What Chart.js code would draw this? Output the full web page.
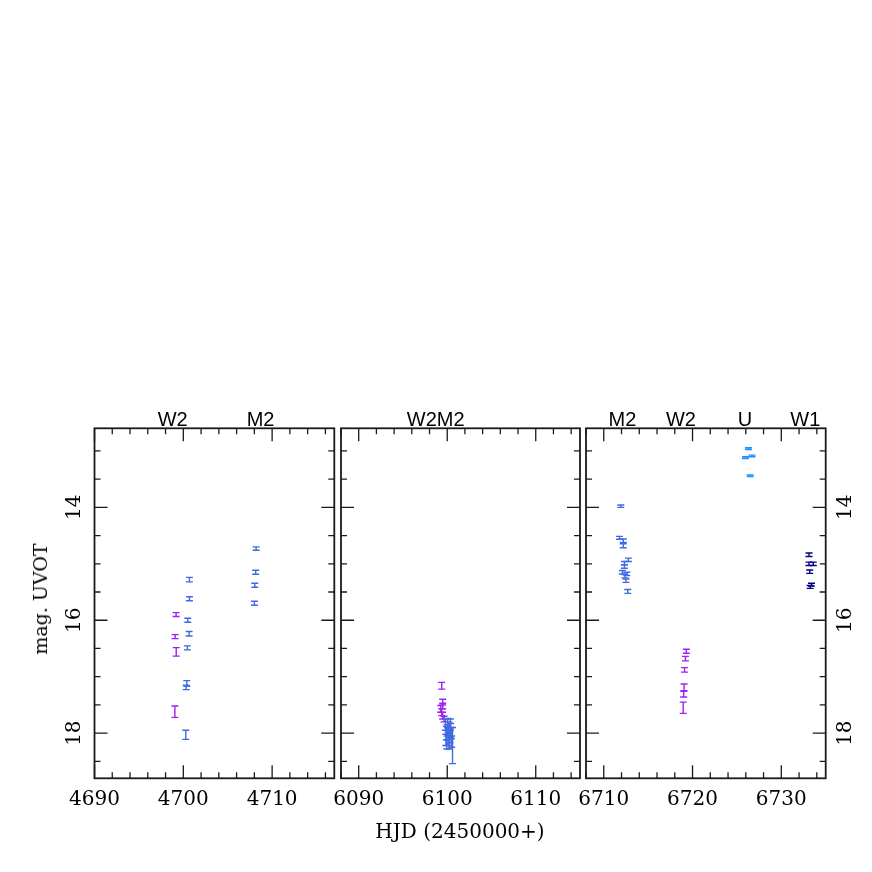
<!DOCTYPE html>
<html>
<head>
<meta charset="utf-8">
<script src="https://cdn.jsdelivr.net/npm/chart.js"></script>
<style>
  body { margin: 0; background: #fff; }
  #wrap { position: relative; width: 872px; height: 872px; background: #fff; }
  #wrap canvas { position: absolute; left: 0; top: 0; }
  .lbl { position: absolute; font-family: "DejaVu Serif", serif; font-size: 19px; color: #000; white-space: nowrap; }
</style>
</head>
<body>
<div id="wrap">
  <canvas id="c1" width="872" height="872"></canvas>
  <canvas id="c2" width="872" height="872"></canvas>
  <canvas id="c3" width="872" height="872"></canvas>
  <div class="lbl" id="ylab" style="left:40px;top:599px;transform:translate(-50%,-50%) rotate(-90deg);">mag. UVOT</div>
  <div class="lbl" id="xlab" style="left:460px;top:831px;font-size:20px;transform:translate(-50%,-50%);">HJD (2450000+)</div>
</div>
<script>
// Magnitude axis (shared by all panels)
var yMin = 12.6, yMax = 18.8;
var yTickLabels = [14, 16, 18];

// Panel 1: HJD 4690-4717
var p1Range = [4690, 4717];
var p1TickLabels = [4690, 4700, 4710];
var p1Bands = ['W2', 'M2'];
var p1BandX = [4698.8, 4708.7];

var p1W2X = [4699.19, 4699.08, 4699.2, 4699.05];
var p1W2Y = [15.90, 16.29, 16.56, 17.62];
var p1W2E = [0.035, 0.035, 0.075, 0.1];

var p1M2X = [4700.69, 4700.69, 4700.5, 4700.65, 4700.46, 4700.39, 4700.32, 4700.28, 4708.2, 4708.15, 4708.05, 4708.0];
var p1M2Y = [15.28, 15.62, 16.0, 16.24, 16.49, 17.12, 17.19, 18.03, 14.73, 15.15, 15.38, 15.70];
var p1M2E = [0.04, 0.035, 0.035, 0.04, 0.035, 0.05, 0.04, 0.08, 0.03, 0.035, 0.035, 0.035];

// Panel 2: HJD 6088-6115
var p2Range = [6088, 6115];
var p2TickLabels = [6090, 6100, 6110];
var p2Bands = ['W2M2'];
var p2BandX = [6098.7];

var p2W2X = [6099.38, 6099.49, 6099.49, 6099.27, 6099.38, 6099.49, 6099.64];
var p2W2Y = [17.16, 17.45, 17.52, 17.57, 17.63, 17.69, 17.75];
var p2W2E = [0.06, 0.05, 0.05, 0.06, 0.06, 0.06, 0.05];

var p2M2X = [6099.8, 6099.9, 6100.0, 6100.1, 6100.2, 6100.3, 6100.4, 6100.5, 6099.85, 6100.05, 6100.25, 6100.35, 6100.6, 6099.95, 6100.45];
var p2M2Y = [17.85, 18.0, 17.95, 18.1, 17.9, 18.05, 17.95, 18.15, 18.12, 17.82, 18.18, 17.85, 18.22, 18.2, 18.0];
var p2M2E = [0.1, 0.12, 0.1, 0.12, 0.1, 0.12, 0.12, 0.1, 0.1, 0.08, 0.1, 0.1, 0.32, 0.08, 0.1];

// Panel 3: HJD 6708-6735
var p3Range = [6708, 6735];
var p3TickLabels = [6710, 6720, 6730];
var p3Bands = ['M2', 'W2', 'U', 'W1'];
var p3BandX = [6712.1, 6718.7, 6725.9, 6732.7];

var p3M2X = [6711.92, 6711.77, 6712.2, 6712.2, 6712.78, 6712.33, 6712.33, 6712.1, 6712.6, 6712.4, 6712.5, 6712.7];
var p3M2Y = [13.98, 14.54, 14.59, 14.68, 14.93, 14.99, 15.05, 15.15, 15.18, 15.22, 15.30, 15.49];
var p3M2E = [0.02, 0.025, 0.03, 0.035, 0.03, 0.03, 0.03, 0.03, 0.03, 0.03, 0.03, 0.035];

var p3W2X = [6719.3, 6719.2, 6719.1, 6719.05, 6719.0, 6718.95];
var p3W2Y = [16.55, 16.68, 16.88, 17.19, 17.31, 17.55];
var p3W2E = [0.035, 0.04, 0.04, 0.06, 0.05, 0.1];

var p3UX = [6726.3, 6725.96, 6726.7, 6726.5];
var p3UY = [12.96, 13.12, 13.09, 13.44];
var p3UE = [0.015, 0.015, 0.015, 0.015];

var p3W1X = [6733.12, 6733.12, 6733.6, 6733.2, 6733.4, 6733.25];
var p3W1Y = [14.84, 15.0, 15.0, 15.14, 15.37, 15.41];
var p3W1E = [0.03, 0.03, 0.03, 0.03, 0.025, 0.025];

var purple = '#a020f0';
var blue = '#4169e1';
var lightBlue = '#1e90ff';
var navy = '#00008b';

function series(xs, ys, errs, color) {
  return {
    data: xs.map(function (x, i) { return { x: x, y: ys[i] }; }),
    err: errs,
    borderColor: color,
    backgroundColor: color,
    pointRadius: 0,
    showLine: false
  };
}

// draws the vertical error bars with caps through the chart scales
var errorBars = {
  id: 'errorBars',
  afterDatasetsDraw: function (chart) {
    var ctx = chart.ctx, xs = chart.scales.x, ys = chart.scales.y;
    ctx.save();
    ctx.lineWidth = 1.4;
    chart.data.datasets.forEach(function (ds) {
      ctx.strokeStyle = ds.borderColor;
      ds.data.forEach(function (p, i) {
        var e = ds.err[i];
        var px = xs.getPixelForValue(p.x);
        var top = ys.getPixelForValue(p.y - e);
        var bot = ys.getPixelForValue(p.y + e);
        ctx.beginPath();
        ctx.moveTo(px, top); ctx.lineTo(px, bot);
        ctx.moveTo(px - 3.5, top); ctx.lineTo(px + 3.5, top);
        ctx.moveTo(px - 3.5, bot); ctx.lineTo(px + 3.5, bot);
        ctx.stroke();
      });
    });
    ctx.restore();
  }
};

// frame, inward ticks, tick labels and filter labels
function framePlugin(tickLabels, bands, bandX, ySide) {
  return {
    id: 'frame',
    afterDraw: function (chart) {
      var ctx = chart.ctx, a = chart.chartArea;
      var xs = chart.scales.x, ys = chart.scales.y;
      ctx.save();
      ctx.strokeStyle = '#1a1a1a';
      ctx.lineWidth = 1.8;
      ctx.strokeRect(a.left, a.top, a.right - a.left, a.bottom - a.top);

      ctx.lineWidth = 1.3;
      ctx.beginPath();
      for (var v = Math.ceil(xs.min / 2) * 2; v <= xs.max; v += 2) {
        var px = xs.getPixelForValue(v);
        var len = tickLabels.indexOf(v) >= 0 ? 13 : 6;
        ctx.moveTo(px, a.bottom); ctx.lineTo(px, a.bottom - len);
        ctx.moveTo(px, a.top); ctx.lineTo(px, a.top + len);
      }
      for (var m = 13; m <= 18.5; m += 0.5) {
        var py = ys.getPixelForValue(m);
        var l = yTickLabels.indexOf(m) >= 0 ? 13 : 6;
        ctx.moveTo(a.left, py); ctx.lineTo(a.left + l, py);
        ctx.moveTo(a.right, py); ctx.lineTo(a.right - l, py);
      }
      ctx.stroke();

      ctx.fillStyle = '#000';
      ctx.font = '20px "DejaVu Serif"';
      ctx.textAlign = 'center';
      ctx.textBaseline = 'alphabetic';
      tickLabels.forEach(function (t) {
        ctx.fillText(String(t), xs.getPixelForValue(t), 805);
      });

      if (ySide) {
        var lx = ySide === 'left' ? a.left - 20 : a.right + 20;
        ctx.textBaseline = 'middle';
        yTickLabels.forEach(function (t) {
          ctx.save();
          ctx.translate(lx, ys.getPixelForValue(t));
          ctx.rotate(-Math.PI / 2);
          ctx.fillText(String(t), 0, 0);
          ctx.restore();
        });
      }

      ctx.font = '20px "Liberation Sans"';
      ctx.textBaseline = 'alphabetic';
      bands.forEach(function (b, i) {
        ctx.fillText(b, xs.getPixelForValue(bandX[i]), 426);
      });
      ctx.restore();
    }
  };
}

function makePanel(id, range, pad, datasets, tickLabels, bands, bandX, ySide) {
  return new Chart(document.getElementById(id), {
    type: 'scatter',
    data: { datasets: datasets },
    options: {
      responsive: false,
      animation: false,
      devicePixelRatio: 1,
      layout: { padding: pad },
      plugins: { legend: { display: false }, tooltip: { enabled: false } },
      scales: {
        x: { type: 'linear', min: range[0], max: range[1], display: false },
        y: { type: 'linear', min: yMin, max: yMax, reverse: true, display: false }
      }
    },
    plugins: [errorBars, framePlugin(tickLabels, bands, bandX, ySide)]
  });
}

makePanel('c1', p1Range, { left: 94.5, right: 537.7, top: 428.3, bottom: 93.7 },
  [series(p1W2X, p1W2Y, p1W2E, purple), series(p1M2X, p1M2Y, p1M2E, blue)],
  p1TickLabels, p1Bands, p1BandX, 'left');

makePanel('c2', p2Range, { left: 341, right: 292, top: 428.3, bottom: 93.7 },
  [series(p2W2X, p2W2Y, p2W2E, purple), series(p2M2X, p2M2Y, p2M2E, blue)],
  p2TickLabels, p2Bands, p2BandX, null);

makePanel('c3', p3Range, { left: 586, right: 46.3, top: 428.3, bottom: 93.7 },
  [series(p3M2X, p3M2Y, p3M2E, blue), series(p3W2X, p3W2Y, p3W2E, purple),
   series(p3UX, p3UY, p3UE, lightBlue), series(p3W1X, p3W1Y, p3W1E, navy)],
  p3TickLabels, p3Bands, p3BandX, 'right');
</script>
</body>
</html>
